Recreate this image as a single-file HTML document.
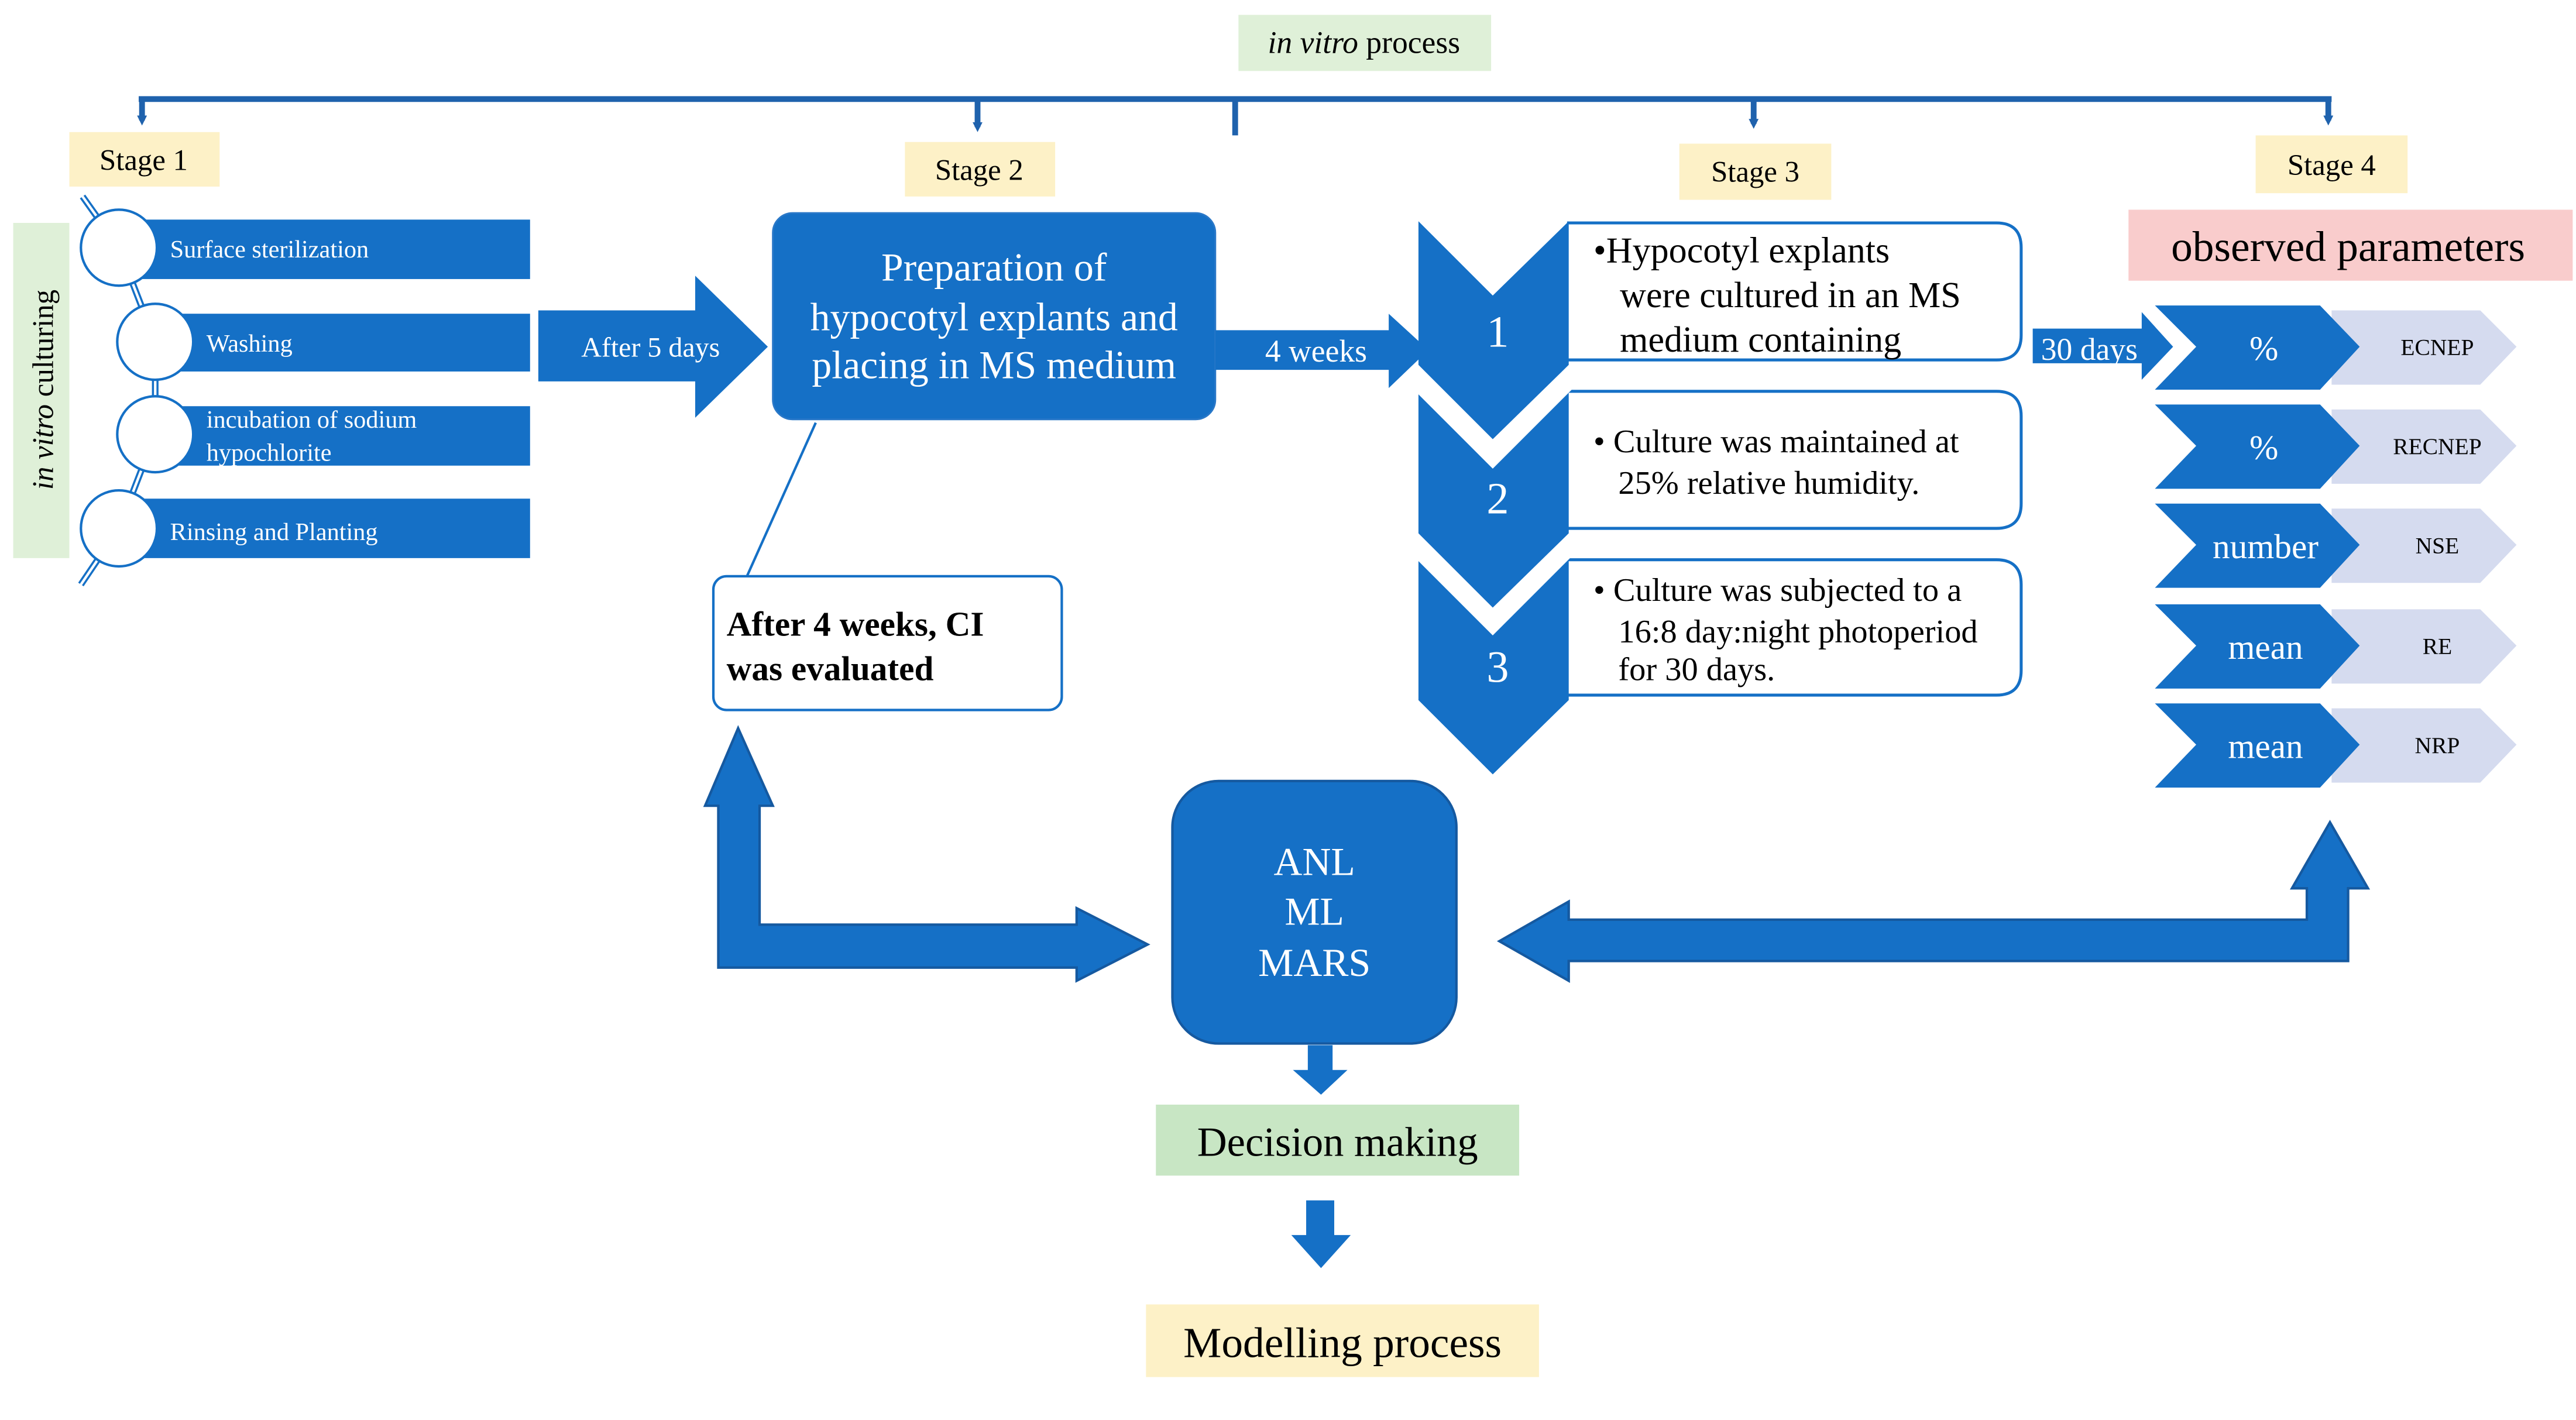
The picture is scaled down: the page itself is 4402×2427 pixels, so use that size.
<!DOCTYPE html>
<html><head><meta charset="utf-8"><style>
html,body{margin:0;padding:0;background:#fff;}
svg{display:block;}
text{font-family:"Liberation Serif",serif;}
</style></head><body>
<svg width="4402" height="2427" viewBox="0 0 1560 860" preserveAspectRatio="none" xmlns="http://www.w3.org/2000/svg">
<defs>
<marker id="ah" markerWidth="6" markerHeight="6" refX="3" refY="3" orient="auto" markerUnits="userSpaceOnUse"><path d="M0,0 L6,3 L0,6 z" fill="#1f62ad"/></marker>
</defs>
<rect width="1560" height="860" fill="#fff"/>
<rect x="750" y="9" width="153" height="34" fill="#dff0d8"/>
<text x="826" y="32" font-size="19" text-anchor="middle"><tspan font-style="italic">in vitro</tspan> process</text>
<g stroke="#1f62ad" stroke-width="3.5" fill="none">
<line x1="84" y1="60" x2="1412" y2="60"/>
<line x1="748" y1="60" x2="748" y2="82"/>
<line x1="86" y1="60" x2="86" y2="73" marker-end="url(#ah)"/>
<line x1="592" y1="60" x2="592" y2="77" marker-end="url(#ah)"/>
<line x1="1062" y1="60" x2="1062" y2="75" marker-end="url(#ah)"/>
<line x1="1410" y1="60" x2="1410" y2="73" marker-end="url(#ah)"/>
</g>
<g fill="#fdf1c7">
<rect x="42" y="80" width="91" height="33"/><rect x="548" y="86" width="91" height="33"/>
<rect x="1017" y="87" width="92" height="34"/><rect x="1366" y="82" width="92" height="35"/>
</g>
<g font-size="18" text-anchor="middle">
<text x="87" y="103">Stage 1</text><text x="593" y="109">Stage 2</text>
<text x="1063" y="110">Stage 3</text><text x="1412" y="106">Stage 4</text>
</g>
<rect x="8" y="135" width="34" height="203" fill="#dff0d8"/>
<text transform="translate(32,236) rotate(-90)" font-size="18" text-anchor="middle"><tspan font-style="italic">in vitro</tspan> culturing</text>
<g fill="#1570c6">
<rect x="72" y="133" width="249" height="36"/><rect x="94" y="190" width="227" height="35"/>
<rect x="94" y="246" width="227" height="36"/><rect x="72" y="302" width="249" height="36"/>
</g>
<path d="M50,119 L72,150 L94,207 L94,263 L72,320 L49,354" fill="none" stroke="#1570c6" stroke-width="4"/>
<path d="M50,119 L72,150 L94,207 L94,263 L72,320 L49,354" fill="none" stroke="#fff" stroke-width="1.5"/>
<g fill="#fff" stroke="#1570c6" stroke-width="1.5">
<ellipse cx="72" cy="150" rx="23" ry="23"/><ellipse cx="94" cy="207" rx="23" ry="23"/>
<ellipse cx="94" cy="263" rx="23" ry="23"/><ellipse cx="72" cy="320" rx="23" ry="23"/>
</g>
<g fill="#fff" font-size="15">
<text x="103" y="156">Surface sterilization</text>
<text x="125" y="213">Washing</text>
<text x="125" y="259">incubation of sodium</text>
<text x="125" y="279">hypochlorite</text>
<text x="103" y="327">Rinsing and Planting</text>
</g>
<path d="M326,188 L421,188 L421,167 L465,210 L421,253 L421,231 L326,231 z" fill="#1570c6"/>
<text x="394" y="216" font-size="17" fill="#fff" text-anchor="middle">After 5 days</text>
<rect x="468" y="129" width="268" height="125" rx="12" fill="#1570c6" stroke="#2a78c8"/>
<g fill="#fff" font-size="24" text-anchor="middle">
<text x="602" y="170">Preparation of</text>
<text x="602" y="200">hypocotyl explants and</text>
<text x="602" y="229">placing in MS medium</text>
</g>
<path d="M736,200 L841,200 L841,190 L865,212 L841,235 L841,224 L736,224 z" fill="#1570c6"/>
<text x="797" y="219" font-size="19" fill="#fff" text-anchor="middle">4 weeks</text>
<line x1="494" y1="256" x2="451" y2="352" stroke="#1570c6" stroke-width="1.5"/>
<rect x="432" y="349" width="211" height="81" rx="8" fill="#fff" stroke="#1570c6" stroke-width="1.5"/>
<g font-size="21" font-weight="bold"><text x="440" y="385">After 4 weeks, CI</text><text x="440" y="412">was evaluated</text></g>
<g fill="#fff" stroke="#1570c6" stroke-width="1.8">
<path d="M949,135 L1209,135 Q1224,135 1224,150 L1224,203 Q1224,218 1209,218 L949,218"/>
<path d="M949,237 L1209,237 Q1224,237 1224,252 L1224,305 Q1224,320 1209,320 L949,320"/>
<path d="M949,339 L1209,339 Q1224,339 1224,354 L1224,406 Q1224,421 1209,421 L949,421"/>
</g>
<g fill="#1570c6">
<path d="M859,134 L904,179 L950,134 L950,221 L904,266 L859,221 z"/>
<path d="M859,236 L904,281 L950,236 L950,323 L904,368 L859,323 z"/>
<path d="M859,337 L904,382 L950,337 L950,424 L904,469 L859,424 z"/>
</g>
<g fill="none" stroke="#fff" stroke-width="4">
<path d="M857,234 L904,281 L951,234"/>
<path d="M857,335 L904,382 L951,335"/>
</g>
<g fill="#fff" font-size="27" text-anchor="middle">
<text x="907" y="210">1</text><text x="907" y="311">2</text><text x="907" y="413">3</text>
</g>
<g font-size="22">
<text x="965" y="159">•Hypocotyl explants</text>
<text x="981" y="186">were cultured in an MS</text>
<text x="981" y="213">medium containing</text>
<text x="965" y="274" font-size="20">• Culture was maintained at</text>
<text x="980" y="299" font-size="20">25% relative humidity.</text>
<text x="965" y="364" font-size="20">• Culture was subjected to a</text>
<text x="980" y="389" font-size="20">16:8 day:night photoperiod</text>
<text x="980" y="412" font-size="20">for 30 days.</text>
</g>
<path d="M1231,199 L1297,199 L1297,189 L1316,210 L1297,230 L1297,220 L1231,220 z" fill="#1570c6"/>
<text x="1236" y="218" font-size="19" fill="#fff">30 days</text>
<rect x="1289" y="127" width="269" height="43" fill="#f9cccc"/>
<text x="1422" y="158" font-size="26" text-anchor="middle">observed parameters</text>
<g>
<g>
<path d="M1412,188 L1502,188 L1524,210 L1502,233 L1412,233 z" fill="#d5dbef"/>
<path d="M1305,185 L1405,185 L1429,210 L1405,236 L1305,236 L1330,210 z" fill="#1570c6"/>
<text x="1371" y="218" font-size="21" fill="#fff" text-anchor="middle">%</text>
<text x="1476" y="215" font-size="14" text-anchor="middle">ECNEP</text>
</g>
<g transform="translate(0,60)">
<path d="M1412,188 L1502,188 L1524,210 L1502,233 L1412,233 z" fill="#d5dbef"/>
<path d="M1305,185 L1405,185 L1429,210 L1405,236 L1305,236 L1330,210 z" fill="#1570c6"/>
<text x="1371" y="218" font-size="21" fill="#fff" text-anchor="middle">%</text>
<text x="1476" y="215" font-size="14" text-anchor="middle">RECNEP</text>
</g>
<g transform="translate(0,120)">
<path d="M1412,188 L1502,188 L1524,210 L1502,233 L1412,233 z" fill="#d5dbef"/>
<path d="M1305,185 L1405,185 L1429,210 L1405,236 L1305,236 L1330,210 z" fill="#1570c6"/>
<text x="1372" y="218" font-size="21" fill="#fff" text-anchor="middle">number</text>
<text x="1476" y="215" font-size="14" text-anchor="middle">NSE</text>
</g>
<g transform="translate(0,181)">
<path d="M1412,188 L1502,188 L1524,210 L1502,233 L1412,233 z" fill="#d5dbef"/>
<path d="M1305,185 L1405,185 L1429,210 L1405,236 L1305,236 L1330,210 z" fill="#1570c6"/>
<text x="1372" y="218" font-size="21" fill="#fff" text-anchor="middle">mean</text>
<text x="1476" y="215" font-size="14" text-anchor="middle">RE</text>
</g>
<g transform="translate(0,241)">
<path d="M1412,188 L1502,188 L1524,210 L1502,233 L1412,233 z" fill="#d5dbef"/>
<path d="M1305,185 L1405,185 L1429,210 L1405,236 L1305,236 L1330,210 z" fill="#1570c6"/>
<text x="1372" y="218" font-size="21" fill="#fff" text-anchor="middle">mean</text>
<text x="1476" y="215" font-size="14" text-anchor="middle">NRP</text>
</g>
</g>
<rect x="710" y="473" width="172" height="159" rx="28" fill="#1570c6" stroke="#1559a0" stroke-width="1.5"/>
<g fill="#fff" font-size="24" text-anchor="middle">
<text x="796" y="530">ANL</text><text x="796" y="560">ML</text><text x="796" y="591">MARS</text>
</g>
<path d="M435,586 L652,586 L652,594 L695,572 L652,550 L652,560 L460,560 L460,488 L468,488 L447,441 L427,488 L435,488 z" fill="#1570c6" stroke="#1559a0" stroke-width="1.5"/>
<path d="M1422,582 L950,582 L950,594 L908,570 L950,546 L950,557 L1397,557 L1397,538 L1388,538 L1411,498 L1434,538 L1422,538 z" fill="#1570c6" stroke="#1559a0" stroke-width="1.5"/>
<path d="M792,633 L807,633 L807,648 L816,648 L800,663 L783,648 L792,648 z" fill="#1570c6"/>
<path d="M791,727 L808,727 L808,748 L818,748 L800,768 L782,748 L791,748 z" fill="#1570c6"/>
<rect x="700" y="669" width="220" height="43" fill="#c8e6c4"/>
<text x="810" y="700" font-size="25" text-anchor="middle">Decision making</text>
<rect x="694" y="790" width="238" height="44" fill="#fdf1c7"/>
<text x="813" y="822" font-size="26" text-anchor="middle">Modelling process</text>
</svg>
</body></html>
